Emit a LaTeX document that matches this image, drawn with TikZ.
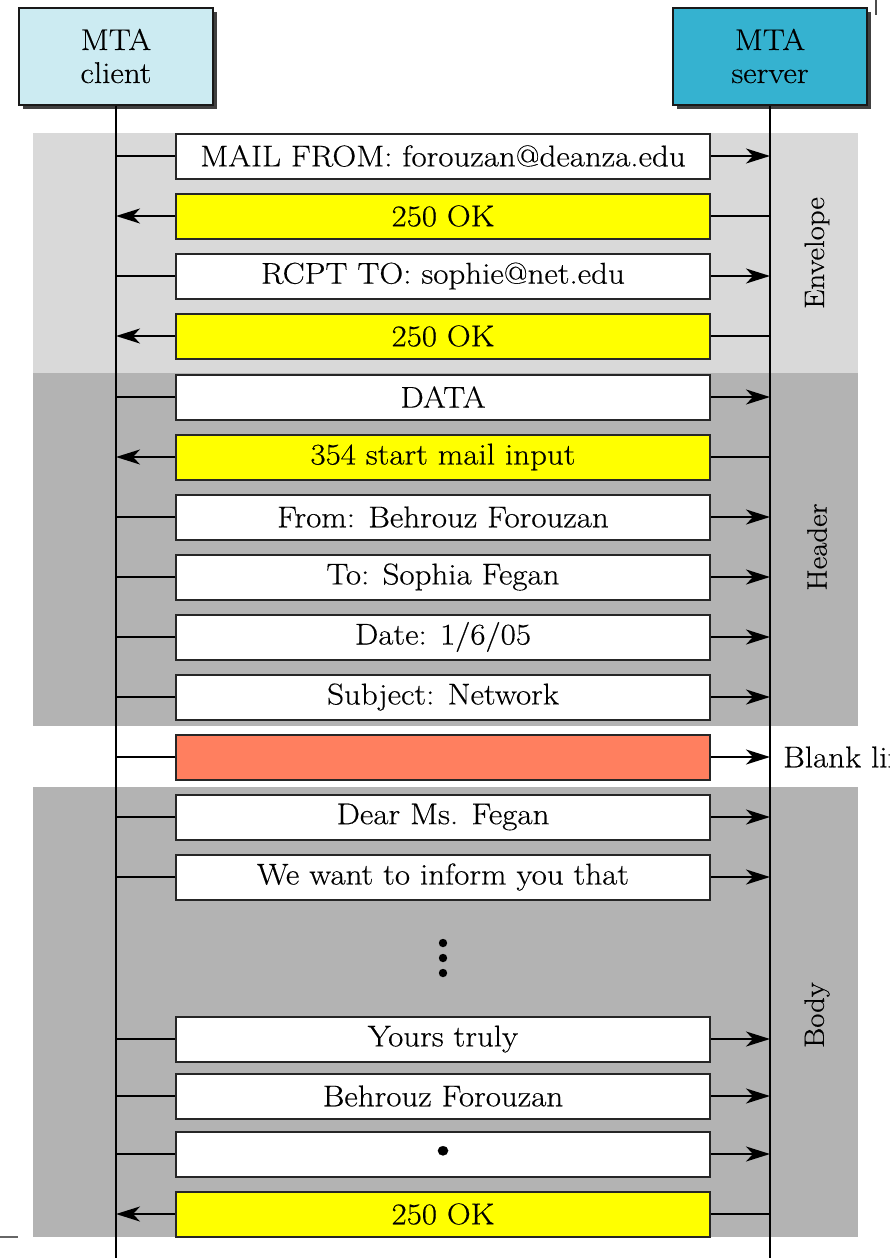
\documentclass[tikz,border=0pt]{standalone}
\usepackage{fontspec}
\setmainfont[FakeStretch=1.1,FakeBold=0.4]{Latin Modern Roman}
\usetikzlibrary{arrows.meta,shadows}
\definecolor{clientc}{HTML}{CCEBF2}
\definecolor{serverc}{HTML}{35B2D0}
\definecolor{envbg}{HTML}{D9D9D9}
\definecolor{hdrbg}{HTML}{B3B3B3}
\definecolor{okc}{HTML}{FFFF00}
\definecolor{blankc}{HTML}{FF7F5F}
\begin{document}
\begin{tikzpicture}[x=1pt,y=-1pt,
  font=\fontsize{30}{33}\selectfont,
  mta/.style={draw=black!90,line width=2pt,minimum width=194pt,minimum height=97pt,inner sep=0pt,align=center,
    drop shadow={shadow xshift=4pt,shadow yshift=-4pt,fill=black!75,opacity=1}},
  msg/.style={draw=black!85,line width=2pt,fill=white,minimum width=534pt,minimum height=45pt,inner sep=0pt},
  reply/.style={msg,fill=okc},
  life/.style={line width=2.5pt},
  conn/.style={line width=2pt},
  tip/.style={-{Stealth[length=24pt,width=15pt,inset=7pt]}},
  side/.style={rotate=90,font=\fontsize{28}{30}\selectfont},
  bg/.style={inner sep=0pt}
]
\useasboundingbox (0,0) rectangle (890,1258);
% backgrounds
\fill[envbg] (33,133) rectangle (858,373);
\fill[hdrbg] (33,373) rectangle (858,726);
\fill[hdrbg] (33,787) rectangle (858,1237);
% edge marks
\draw[black!60,line width=1.5pt] (0,1237) -- (18,1237);
\draw[black!70,line width=1.5pt] (876,0) -- (876,15);
% MTA boxes
\node[mta,fill=clientc] (cl) at (116,56) {MTA\\client};
\node[mta,fill=serverc] (sv) at (770,56) {MTA\\server};
\coordinate (clb) at (116,1258);
\coordinate (svb) at (770,1258);
\draw[life] (cl.south) -- (clb);
\draw[life] (sv.south) -- (svb);
% messages
\node[msg]   (m1)  at (443,156)  {MAIL FROM: forouzan@deanza.edu};
\node[reply] (m2)  at (443,216)  {250 OK};
\node[msg]   (m3)  at (443,276)  {RCPT TO: sophie@net.edu};
\node[reply] (m4)  at (443,336)  {250 OK};
\node[msg]   (m5)  at (443,397)  {DATA};
\node[reply] (m6)  at (443,457)  {354 start mail input};
\node[msg]   (m7)  at (443,517)  {From: Behrouz Forouzan};
\node[msg]   (m8)  at (443,577)  {To: Sophia Fegan};
\node[msg]   (m9)  at (443,637)  {Date: 1/6/05};
\node[msg]   (m10) at (443,697)  {Subject: Network};
\node[msg,fill=blankc] (m11) at (443,757) {};
\node[msg]   (m12) at (443,817)  {Dear Ms. Fegan};
\node[msg]   (m13) at (443,877)  {We want to inform you that};
\node[msg]   (m14) at (443,1039) {Yours truly};
\node[msg]   (m15) at (443,1096) {Behrouz Forouzan};
\node[msg]   (m16) at (443,1154) {{\fontsize{42}{42}\selectfont\textbullet}};
\node[reply] (m17) at (443,1214) {250 OK};
% client -> server
\foreach \m in {m1,m3,m5,m7,m8,m9,m10,m11,m12,m13,m14,m15,m16}{
  \draw[conn] (cl.south |- \m) -- (\m.west);
  \draw[conn,tip] (\m.east) -- (\m.east -| sv.south);
}
% server -> client
\foreach \m in {m2,m4,m6,m17}{
  \draw[conn,tip] (\m.west) -- (\m.west -| cl.south);
  \draw[conn] (\m.east) -- (\m.east -| sv.south);
}
% vertical dots
\fill (443,943) circle (4.2);
\fill (443,958) circle (4.2);
\fill (443,973) circle (4.2);
% side labels
\node[side] (env) at (817,253) {Envelope};
\node[side] (hdr) at (817,547) {Header};
\node[side] (bdy) at (817,1015) {Body};
\node[anchor=west,inner sep=0pt] (blank) at (783,757) {Blank line};
\end{tikzpicture}
\end{document}
